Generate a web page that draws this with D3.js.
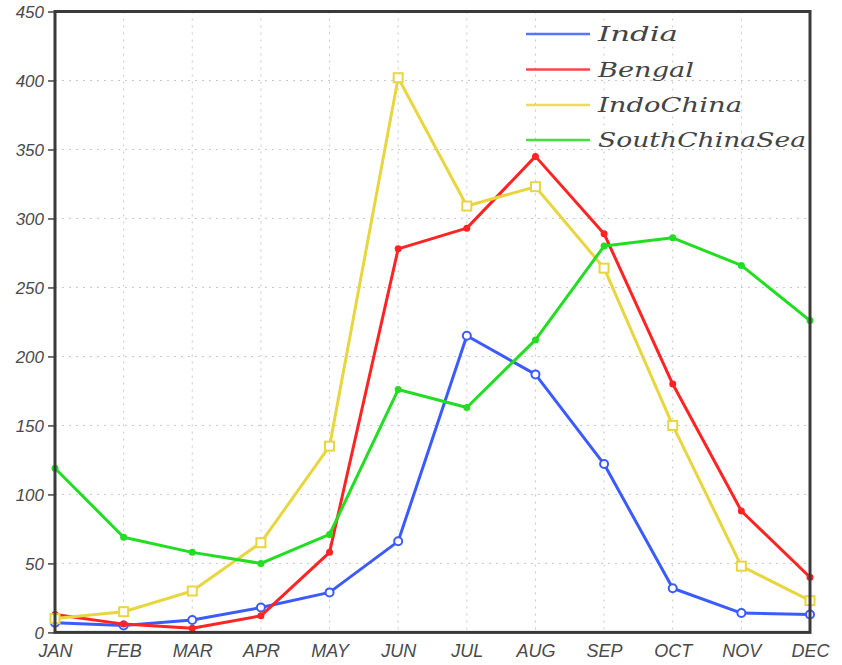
<!DOCTYPE html>
<html><head><meta charset="utf-8">
<script src="https://cdn.jsdelivr.net/npm/d3@7"></script>
<style>html,body{margin:0;padding:0;background:#fff;}</style>
</head><body>
<svg id="chart" width="842" height="665"></svg>
<script>
const months = ["JAN","FEB","MAR","APR","MAY","JUN","JUL","AUG","SEP","OCT","NOV","DEC"];
const yTicks = [0,50,100,150,200,250,300,350,400,450];
const seriesNames = ["India","Bengal","IndoChina","SouthChinaSea"];
const india = [7, 5, 9, 18, 29, 66, 215, 187, 122, 32, 14, 13];
const bengal = [13, 6, 3, 12, 58, 278, 293, 345, 289, 180, 88, 40];
const indoChina = [10, 15, 30, 65, 135, 402, 309, 323, 264, 150, 48, 23];
const southChinaSea = [119, 69, 58, 50, 71, 176, 163, 212, 280, 286, 266, 226];

const seriesValues = [india, bengal, indoChina, southChinaSea];
const colors = ["#3b5bff", "#ff2424", "#e8d640", "#22dd22"];
const markers = ["circle", "dot", "square", "dot"];

const svg = d3.select("#chart");
const L = 55, R = 810, T = 11.5, B = 632.4;
const x = d3.scalePoint().domain(months).range([L, R]);
const y = d3.scaleLinear().domain([0, 450]).range([B, T]);

// grid
const g = svg.append("g");
g.selectAll(".vg").data(months.slice(1, -1)).enter().append("line")
  .attr("x1", d => x(d)).attr("x2", d => x(d)).attr("y1", T).attr("y2", B)
  .attr("stroke", "#c8c8c8").attr("stroke-width", 1).attr("stroke-dasharray", "2,5");
g.selectAll(".hg").data(yTicks.slice(1, -1)).enter().append("line")
  .attr("x1", L).attr("x2", R).attr("y1", d => y(d)).attr("y2", d => y(d))
  .attr("stroke", "#c8c8c8").attr("stroke-width", 1).attr("stroke-dasharray", "2,5");

// y axis
const yAxis = d3.axisLeft(y).tickValues(yTicks).tickSize(7).tickPadding(4);
const ya = svg.append("g").attr("transform", `translate(${L},0)`).call(yAxis);
ya.select(".domain").remove();
ya.selectAll("line").attr("stroke", "#444").attr("stroke-width", 1.5);
ya.selectAll("text").attr("font-family", "Liberation Sans, Arial, sans-serif")
  .attr("font-style", "italic").attr("font-size", 17).attr("fill", "#4a4a4a").attr("dy", "0.36em");

// x axis
const xAxis = d3.axisBottom(x).tickSize(0).tickPadding(12);
const xa = svg.append("g").attr("transform", `translate(0,${B})`).call(xAxis);
xa.select(".domain").remove();
xa.selectAll("text").attr("font-family", "Liberation Sans, Arial, sans-serif")
  .attr("font-style", "italic").attr("font-size", 18).attr("fill", "#4a4a4a")
  .attr("dy", "0.71em").attr("transform", "scale(1,1)");

// lines
const line = d3.line().x((d, i) => x(months[i])).y(d => y(d));
seriesValues.forEach((vals, k) => {
  svg.append("path").datum(vals).attr("d", line)
    .attr("fill", "none").attr("stroke", colors[k]).attr("stroke-width", 3)
    .attr("stroke-linejoin", "round");
  const mg = svg.append("g");
  vals.forEach((v, i) => {
    const cx = x(months[i]), cy = y(v);
    if (markers[k] === "circle") {
      mg.append("circle").attr("cx", cx).attr("cy", cy).attr("r", 4)
        .attr("fill", "#fff").attr("stroke", colors[k]).attr("stroke-width", 2);
    } else if (markers[k] === "square") {
      mg.append("rect").attr("x", cx - 4.5).attr("y", cy - 4.5).attr("width", 9).attr("height", 9)
        .attr("fill", "#fff").attr("stroke", colors[k]).attr("stroke-width", 2);
    } else {
      mg.append("circle").attr("cx", cx).attr("cy", cy).attr("r", 3.5).attr("fill", colors[k]);
    }
  });
});

// frame
svg.append("rect").attr("x", L).attr("y", T).attr("width", R - L).attr("height", B - T)
  .attr("fill", "none").attr("stroke", "#3a3a3a").attr("stroke-width", 3);

// legend
const legY = [34, 69.5, 105, 140];
const lg = svg.append("g");
seriesNames.forEach((name, k) => {
  lg.append("line").attr("x1", 526).attr("x2", 590).attr("y1", legY[k]).attr("y2", legY[k])
    .attr("stroke", colors[k]).attr("stroke-width", 2.5).attr("opacity", 0.85);
  const t = lg.append("text").attr("x", 598).attr("y", legY[k]).attr("dy", "0.35em")
    .attr("font-family", "DejaVu Serif, serif").attr("font-style", "italic")
    .attr("font-size", 20).attr("fill", "#444").text(name);
});
lg.selectAll("text").filter(d => false);
// stretch legend text to match wide lettering
lg.selectAll("text").each(function() {
  const n = this.textContent.length;
  d3.select(this).attr("textLength", n * 16).attr("lengthAdjust", "spacingAndGlyphs");
});
</script>
</body></html>
